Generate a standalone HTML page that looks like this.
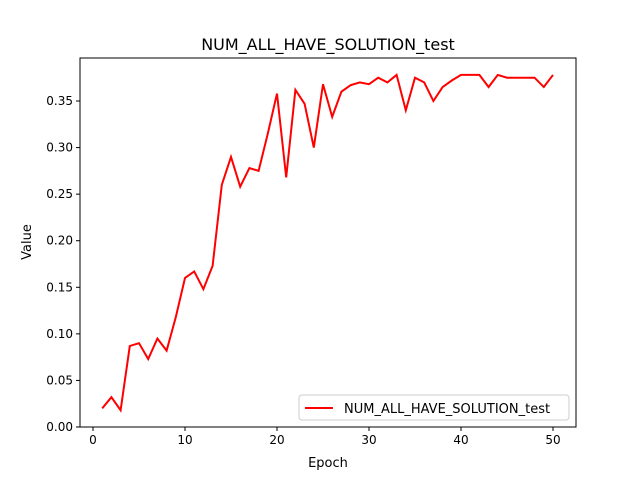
<!DOCTYPE html>
<html><head><meta charset="utf-8"><style>
body{margin:0;background:#fff;}
svg{font-family:"DejaVu Sans","Liberation Sans",sans-serif;}
</style></head><body>
<svg id="chart" width="640" height="480">
<text x="328" y="50" font-size="16" text-anchor="middle">NUM_ALL_HAVE_SOLUTION_test</text>
<g id="axes"></g>
<text x="328" y="467" font-size="13" text-anchor="middle">Epoch</text>
<text transform="translate(31,242) rotate(-90)" font-size="13" text-anchor="middle">Value</text>
</svg>
<script>
const epochs=[1,2,3,4,5,6,7,8,9,10,11,12,13,14,15,16,17,18,19,20,21,22,23,24,25,26,27,28,29,30,31,32,33,34,35,36,37,38,39,40,41,42,43,44,45,46,47,48,49,50];
const values=[0.020,0.032,0.018,0.087,0.090,0.073,0.095,0.082,0.118,0.160,0.167,0.148,0.173,0.260,0.290,0.258,0.278,0.275,0.315,0.358,0.268,0.362,0.347,0.300,0.368,0.333,0.360,0.367,0.370,0.368,0.375,0.370,0.378,0.340,0.375,0.370,0.350,0.365,0.372,0.378,0.378,0.378,0.365,0.378,0.375,0.375,0.375,0.375,0.365,0.378];
const xTicks=[0,10,20,30,40,50];
const yTicks=[0,0.05,0.10,0.15,0.20,0.25,0.30,0.35];
const L=80,R=576,T=58,B=427;
const xs=e=>93+(e*9.2);
const ys=v=>B-v*931.4;
const g=document.getElementById('axes');
const NS='http://www.w3.org/2000/svg';
function mk(t,a){const e=document.createElementNS(NS,t);for(const k in a)e.setAttribute(k,a[k]);g.appendChild(e);return e;}
xTicks.forEach(t=>{
  const l=mk('line',{x1:xs(t),x2:xs(t),y1:B,y2:B+4,stroke:'#000'});
  
  
  const tx=mk('text',{x:xs(t),y:B+17,'font-size':12,'text-anchor':'middle'});tx.textContent=t;
  
  
});
yTicks.forEach(t=>{
  const l=mk('line',{x1:L-4,x2:L,y1:ys(t),y2:ys(t),stroke:'#000'});
  
  
  const tx=mk('text',{x:L-7,y:ys(t)+4,'font-size':12,'text-anchor':'end'});tx.textContent=t.toFixed(2);
  
  
});
const line=mk('polyline',{points:epochs.map((e,i)=>xs(e)+','+ys(values[i])).join(' '),fill:'none',stroke:'#ff0000','stroke-width':2});


const frame=mk('rect',{x:L,y:T,width:R-L,height:B-T,fill:'none',stroke:'#000','stroke-width':1});


const lg=mk('rect',{x:299,y:395,width:270,height:25,rx:3,fill:'#fff',stroke:'#ccc'});


const ll=mk('line',{x1:305,x2:333,y1:408,y2:408,stroke:'#ff0000','stroke-width':2});


const lt=mk('text',{x:344,y:413,'font-size':13});lt.textContent='NUM_ALL_HAVE_SOLUTION_test';


</script>
</body></html>
